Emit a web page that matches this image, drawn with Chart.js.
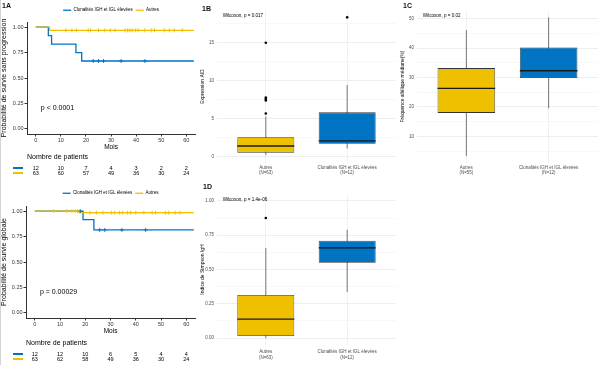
<!DOCTYPE html>
<html>
<head>
<meta charset="utf-8">
<script src="https://cdn.jsdelivr.net/npm/chart.js@4.4.1/dist/chart.umd.min.js"></script>
<style>
  body { margin: 0; background: #fff; }
  #wrap { position: relative; width: 600px; height: 365px; overflow: hidden; font-family: "Liberation Sans", Arial, sans-serif; }
  #edge { position: absolute; left: 0; top: 0; width: 1px; height: 365px; background: #d4d4d4; }
  canvas { position: absolute; }
  .tag { position: absolute; font-weight: bold; font-size: 7px; color: #111; line-height: 1; }
</style>
</head>
<body>
<div id="wrap">
  <canvas id="pfs" style="left:0;top:0" width="200" height="182"></canvas>
  <canvas id="os" style="left:0;top:180px" width="200" height="185"></canvas>
  <canvas id="aid" style="left:192px;top:0" width="208" height="180"></canvas>
  <canvas id="vaf" style="left:392px;top:0" width="208" height="180"></canvas>
  <canvas id="simpson" style="left:192px;top:180px" width="208" height="185"></canvas>
  <div id="edge"></div>
  <div class="tag" style="left:2px;top:2px">1A</div>
  <div class="tag" style="left:202px;top:5px">1B</div>
  <div class="tag" style="left:403px;top:2px">1C</div>
  <div class="tag" style="left:203px;top:183px">1D</div>
</div>
<script>
const BLUE = '#0073C2';
const YELLOW = '#EFC000';
const FONT = '"Liberation Sans", Arial, sans-serif';

// ---- Kaplan-Meier data ----
const kmMonths = [0, 10, 20, 30, 40, 50, 60];
const kmProbTicks = [0, 0.25, 0.5, 0.75, 1];
const groupNames = ['Clonalités IGH et IGL élevées', 'Autres'];

// survie sans progression
const pfsClonT = [0, 5, 6.3, 16, 18.3, 63];
const pfsClonS = [1, 0.917, 0.833, 0.75, 0.667, 0.667];
const pfsClonCens = [22.9, 25, 27, 34, 43.5];
const pfsAutresT = [0, 5.5, 63];
const pfsAutresS = [1, 0.968, 0.968];
const pfsAutresCens = [12, 14.4, 16.2, 20.9, 21.8, 25, 27.5, 29.7, 31.6, 35.6, 36.6, 37.5, 38.4, 39.7, 40.8, 43.4, 46, 47.3, 51.2, 53.2, 55.2, 58.4];
const pfsRiskClon = [12, 10, 7, 4, 3, 2, 2];
const pfsRiskAutres = [63, 60, 57, 49, 36, 30, 24];

// survie globale
const osClonT = [0, 19.1, 23.4, 63];
const osClonS = [1, 0.917, 0.815, 0.815];
const osClonCens = [18, 25.7, 27.7, 34.5, 43.9];
const osAutresT = [0, 17.5, 63];
const osAutresS = [1, 0.984, 0.984];
const osAutresCens = [7.5, 12.7, 14.7, 16, 16.9, 21.8, 24.4, 27, 30.3, 31.6, 33.5, 34.8, 36.7, 38, 40, 43.2, 46.5, 47.8, 51.7, 53, 55.6, 57.5];
const osRiskClon = [12, 12, 10, 6, 5, 4, 4];
const osRiskAutres = [63, 62, 58, 49, 36, 30, 24];

// ---- Boxplot data (Autres, Clonalités) ----
const boxCats = ['Autres', 'Clonalités IGH et IGL élevées'];

const aidN = ['(N=63)', '(N=12)'];
const aidLow = [0.24, 1.1];
const aidQ1 = [0.54, 1.7];
const aidMed = [1.42, 2.08];
const aidQ3 = [2.56, 5.85];
const aidHigh = [5.3, 9.45];
const aidOutAutres = [5.7, 7.4, 7.6, 7.8, 15.0];
const aidOutClon = [18.35];
const aidTicks = [0, 5, 10, 15];
const aidTickLabels = ['0', '5', '10', '15'];
const aidMinor = [2.5, 7.5, 12.5, 17.5];

const vafN = ['(N=55)', '(N=12)'];
const vafLow = [3.4, 19.5];
const vafQ1 = [18.0, 29.8];
const vafMed = [26.3, 32.3];
const vafQ3 = [33.2, 40.2];
const vafHigh = [46.1, 50.4];
const vafTicks = [10, 20, 30, 40, 50];
const vafTickLabels = ['10', '20', '30', '40', '50'];
const vafMinor = [5, 15, 25, 35, 45];

const simN = ['(N=63)', '(N=12)'];
const simLow = [0.0, 0.336];
const simQ1 = [0.015, 0.549];
const simMed = [0.138, 0.657];
const simQ3 = [0.314, 0.71];
const simHigh = [0.657, 0.79];
const simOutAutres = [0.875];
const simOutClon = [];
const simTicks = [0, 0.25, 0.5, 0.75, 1];
const simTickLabels = ['0.00', '0.25', '0.50', '0.75', '1.00'];
const simMinor = [0.125, 0.375, 0.625, 0.875];

function survAt(times, surv, t) {
    let s = surv[0];
    times.forEach((tt, i) => { if (tt <= t) s = surv[i]; });
    return s;
}

// text written at data coordinates
const notesPlugin = {
    id: 'notes',
    afterDraw(chart, args, opts) {
        const {ctx, scales: {x, y}} = chart;
        (opts.items || []).forEach(n => {
            ctx.save();
            ctx.font = n.font;
            ctx.fillStyle = '#000';
            ctx.textBaseline = 'middle';
            ctx.textAlign = 'left';
            ctx.fillText(n.text, x.getPixelForValue(n.x), y.getPixelForValue(n.y));
            ctx.restore();
        });
    }
};

// number at risk table under the KM plot
const riskPlugin = {
    id: 'risk',
    afterDraw(chart, args, opts) {
        if (!opts.rows) return;
        const {ctx, scales: {x}} = chart;
        ctx.save();
        ctx.fillStyle = '#000';
        ctx.textBaseline = 'middle';
        ctx.font = '7px ' + FONT;
        ctx.textAlign = 'left';
        ctx.fillText('Nombre de patients', chart.chartArea.left, opts.titleY);
        ctx.font = '5.5px ' + FONT;
        ctx.textAlign = 'center';
        opts.rows.forEach((row, r) => {
            const y = opts.rowY[r];
            ctx.strokeStyle = row.color;
            ctx.lineWidth = 2;
            ctx.beginPath();
            ctx.moveTo(13, y);
            ctx.lineTo(23, y);
            ctx.stroke();
            row.values.forEach((v, i) => {
                ctx.fillText(String(v), x.getPixelForValue(kmMonths[i]), y);
            });
        });
        ctx.restore();
    }
};

const legendHeight = {
    id: 'legendHeight',
    beforeInit(chart, args, opts) {
        if (!chart.legend || !opts.h) return;
        const fit = chart.legend.fit;
        chart.legend.fit = function () {
            fit.call(this);
            this.height = opts.h;
        };
    }
};

Chart.register(notesPlugin, riskPlugin, legendHeight);

function kmChart(id, d) {
    const pts = (T, S) => T.map((t, i) => ({x: t, y: S[i]}));
    const cens = (C, T, S) => C.map(t => ({x: t, y: survAt(T, S, t)}));
    return new Chart(document.getElementById(id), {
        type: 'line',
        data: {
            datasets: [
                {label: groupNames[0], data: pts(d.clonT, d.clonS), borderColor: BLUE, backgroundColor: BLUE,
                    borderWidth: 1.3, stepped: true, pointRadius: 0, order: 3},
                {label: groupNames[1], data: pts(d.autT, d.autS), borderColor: YELLOW, backgroundColor: YELLOW,
                    borderWidth: 1.3, stepped: true, pointRadius: 0, order: 2},
                {label: '', data: cens(d.clonCens, d.clonT, d.clonS), showLine: false, pointStyle: 'cross',
                    pointRadius: 2, borderColor: BLUE, pointBorderWidth: 0.9, order: 1},
                {label: '', data: cens(d.autCens, d.autT, d.autS), showLine: false, pointStyle: 'cross',
                    pointRadius: 2, borderColor: YELLOW, pointBorderWidth: 0.9, order: 0}
            ]
        },
        options: {
            responsive: false,
            animation: false,
            events: [],
            layout: {padding: {top: d.padTop, right: d.padRight, bottom: d.padBottom, left: 0}},
            plugins: {
                legendHeight: {h: d.legendH},
                legend: {
                    position: 'top',
                    fullSize: false,
                    labels: {
                        usePointStyle: true,
                        pointStyle: 'line',
                        pointStyleWidth: 8,
                        padding: 3,
                        color: '#000',
                        font: {size: 4.5, family: FONT},
                        filter: item => item.text !== '',
                        sort: (a, b) => a.datasetIndex - b.datasetIndex
                    }
                },
                tooltip: {enabled: false},
                notes: {items: [{text: d.pText, x: 2, y: 0.2, font: '7px ' + FONT}]},
                risk: {
                    titleY: d.riskTitleY,
                    rowY: d.riskRowY,
                    rows: [{values: d.riskClon, color: BLUE}, {values: d.riskAut, color: YELLOW}]
                }
            },
            scales: {
                x: {
                    type: 'linear', min: -3.5, max: 63.5,
                    afterBuildTicks: s => { s.ticks = kmMonths.map(v => ({value: v})); },
                    afterFit: s => { s.height = 17; },
                    border: {display: true, color: '#333', width: 1},
                    grid: {display: true, drawOnChartArea: false, drawTicks: true, tickLength: 2.5, color: '#333'},
                    ticks: {font: {size: 5.5, family: FONT}, color: '#333', padding: 1, maxRotation: 0},
                    title: {display: true, text: 'Mois', font: {size: 6.5, family: FONT}, color: '#000', padding: 0}
                },
                y: {
                    type: 'linear', min: -0.05, max: 1.05,
                    afterBuildTicks: s => { s.ticks = kmProbTicks.map(v => ({value: v})); },
                    afterFit: s => { s.width = d.yWidth; },
                    border: {display: true, color: '#333', width: 1},
                    grid: {display: true, drawOnChartArea: false, drawTicks: true, tickLength: 2.5, color: '#333'},
                    ticks: {font: {size: 5.5, family: FONT}, color: '#333', padding: 1, callback: v => v.toFixed(2)},
                    title: {display: true, text: d.yTitle, font: {size: 7, family: FONT}, color: '#000', padding: 0}
                }
            }
        }
    });
}

kmChart('pfs', {
    clonT: pfsClonT, clonS: pfsClonS, clonCens: pfsClonCens,
    autT: pfsAutresT, autS: pfsAutresS, autCens: pfsAutresCens,
    riskClon: pfsRiskClon, riskAut: pfsRiskAutres,
    pText: 'p < 0.0001', yTitle: 'Probabilité de survie sans progression',
    padTop: 5, legendH: 17, padRight: 2, padBottom: 31, yWidth: 27,
    riskTitleY: 157, riskRowY: [168, 173]
});

kmChart('os', {
    clonT: osClonT, clonS: osClonS, clonCens: osClonCens,
    autT: osAutresT, autS: osAutresS, autCens: osAutresCens,
    riskClon: osRiskClon, riskAut: osRiskAutres,
    pText: 'p = 0.00029', yTitle: 'Probabilité de survie globale',
    padTop: 8, legendH: 18, padRight: 3, padBottom: 30, yWidth: 26,
    riskTitleY: 163, riskRowY: [174, 179]
});

function boxChart(id, d) {
    const box = [0, 1].map(i => ({x: i + 1, y: [d.q1[i], d.q3[i]]}));
    const whisk = [
        {x: 1, y: d.low[0]}, {x: 1, y: d.high[0]}, {x: 1.5, y: null},
        {x: 2, y: d.low[1]}, {x: 2, y: d.high[1]}
    ];
    const med = [
        {x: 0.65, y: d.med[0]}, {x: 1.35, y: d.med[0]}, {x: 1.5, y: null},
        {x: 1.65, y: d.med[1]}, {x: 2.35, y: d.med[1]}
    ];
    const outs = d.outA.map(v => ({x: 1, y: v})).concat(d.outC.map(v => ({x: 2, y: v})));
    return new Chart(document.getElementById(id), {
        type: 'bar',
        data: {
            datasets: [
                {type: 'line', data: whisk, borderColor: '#666', borderWidth: 0.9, pointRadius: 0, spanGaps: false, order: 2},
                {type: 'bar', data: box, backgroundColor: [YELLOW, BLUE], borderColor: '#333', borderWidth: 0.8,
                    borderSkipped: false, barPercentage: 0.7, categoryPercentage: 1, order: 1},
                {type: 'line', data: med, borderColor: '#1a1a1a', borderWidth: 1.3, pointRadius: 0, spanGaps: false, order: 0},
                {type: 'line', data: outs, showLine: false, pointRadius: 1.3, pointBackgroundColor: '#000',
                    pointBorderWidth: 0, order: 0}
            ]
        },
        options: {
            responsive: false,
            animation: false,
            events: [],
            layout: {padding: {top: d.top, right: 2, bottom: 0, left: 0}},
            plugins: {
                legend: {display: false},
                tooltip: {enabled: false},
                notes: {items: [{text: d.note, x: 0.47, y: d.noteY, font: '4.6px ' + FONT}]}
            },
            scales: {
                x: {
                    type: 'linear', min: 0.4, max: 2.6, offset: false,
                    afterBuildTicks: s => { s.ticks = [{value: 1}, {value: 2}]; },
                    afterFit: s => { s.height = d.xH; },
                    border: {display: false},
                    grid: {color: '#ebebeb', lineWidth: 0.7, drawTicks: false, offset: false},
                    ticks: {
                        font: {size: 4.5, family: FONT, lineHeight: 1.25}, color: '#4d4d4d', padding: d.xPad, maxRotation: 0,
                        callback: (v, i) => [boxCats[i], d.n[i]]
                    }
                },
                y: {
                    type: 'linear', min: d.min, max: d.max,
                    afterBuildTicks: s => {
                        s.ticks = d.ticks.concat(d.minor).sort((a, b) => a - b).map(v => ({value: v}));
                    },
                    afterFit: s => { s.width = 25; },
                    border: {display: false},
                    grid: {
                        drawTicks: false,
                        color: c => d.ticks.includes(c.tick.value) ? '#e6e6e6' : '#f1f1f1',
                        lineWidth: c => d.ticks.includes(c.tick.value) ? 0.7 : 0.5
                    },
                    ticks: {
                        font: {size: 4.5, family: FONT}, color: '#4d4d4d', padding: 3,
                        callback: v => {
                            const k = d.ticks.indexOf(v);
                            return k >= 0 ? d.tickLabels[k] : '';
                        }
                    },
                    title: {display: true, text: d.yTitle, font: {size: 5, family: FONT}, color: '#000', padding: {top: 8, bottom: 0}}
                }
            }
        }
    });
}

boxChart('aid', {
    n: aidN, low: aidLow, q1: aidQ1, med: aidMed, q3: aidQ3, high: aidHigh,
    outA: aidOutAutres, outC: aidOutClon,
    ticks: aidTicks, tickLabels: aidTickLabels, minor: aidMinor,
    min: -0.82, max: 19.32, yTitle: 'Expression AID',
    note: 'Wilcoxon, p = 0.017', noteY: 18.5,
    top: 10, xH: 17, xPad: 1.5
});

boxChart('vaf', {
    n: vafN, low: vafLow, q1: vafQ1, med: vafMed, q3: vafQ3, high: vafHigh,
    outA: [], outC: [],
    ticks: vafTicks, tickLabels: vafTickLabels, minor: vafMinor,
    min: 1.0, max: 52.9, yTitle: 'Fréquence allélique médiane(%)',
    note: 'Wilcoxon, p = 0.02', noteY: 50.8,
    top: 10, xH: 17, xPad: 1.5
});

boxChart('simpson', {
    n: simN, low: simLow, q1: simQ1, med: simMed, q3: simQ3, high: simHigh,
    outA: simOutAutres, outC: simOutClon,
    ticks: simTicks, tickLabels: simTickLabels, minor: simMinor,
    min: -0.05, max: 1.05, yTitle: 'Indice de Simpson IgH',
    note: 'Wilcoxon, p = 1.4e-06', noteY: 1.01,
    top: 14, xH: 20, xPad: 4
});
</script>
</body>
</html>
